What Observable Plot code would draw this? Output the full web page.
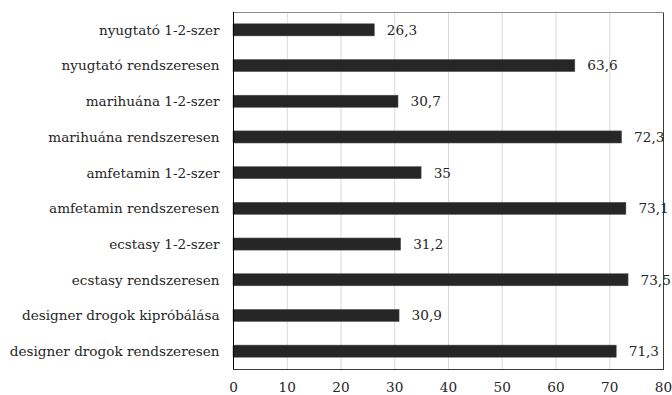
<!DOCTYPE html>
<html><head><meta charset="utf-8">
<script src="https://cdn.jsdelivr.net/npm/d3@7"></script>
<script src="https://cdn.jsdelivr.net/npm/@observablehq/plot@0.6"></script>
<style>body{margin:0;background:#fff}</style>
</head><body><div id="chart"></div>
<script>
const categories = ["nyugtató 1-2-szer","nyugtató rendszeresen","marihuána 1-2-szer","marihuána rendszeresen","amfetamin 1-2-szer","amfetamin rendszeresen","ecstasy 1-2-szer","ecstasy rendszeresen","designer drogok kipróbálása","designer drogok rendszeresen"];
const values = [26.3,63.6,30.7,72.3,35,73.1,31.2,73.5,30.9,71.3];
const xTicks = [0,10,20,30,40,50,60,70,80];
const data = categories.map((c,i)=>({cat:c,val:values[i]}));
const fmt = v => String(v).replace(".", ",");
const chart = Plot.plot({
  width:672, height:395,
  marginLeft:233, marginRight:9, marginTop:12, marginBottom:26,
  style:"font-family:'DejaVu Serif',serif;font-size:13.6px;color:#262626;background:#fff;overflow:visible",
  x:{domain:[0,80], ticks:xTicks, tickSize:0, tickPadding:13, label:null, tickFormat:d=>d},
  y:{domain:categories, paddingInner:0.66, paddingOuter:0.33, round:false, tickSize:0, tickPadding:14, label:null},
  marks:[
    Plot.gridX(xTicks,{stroke:"#d9d9d9", strokeOpacity:1}),
    Plot.frame({stroke:"#3a3a3a"}),
    Plot.frame({anchor:"top", stroke:"#8c8c8c"}),
    Plot.barX(data,{x:"val", y:"cat", fill:"#262626", stroke:"#595959", strokeWidth:0.5}),
    Plot.ruleX([0],{stroke:"#000"}),
    Plot.text(data,{x:"val", y:"cat", text:d=>fmt(d.val), textAnchor:"start", dx:12, fill:"#262626", fontSize:13.6, clip:false})
  ]
});
document.getElementById("chart").append(chart);
</script></body></html>
